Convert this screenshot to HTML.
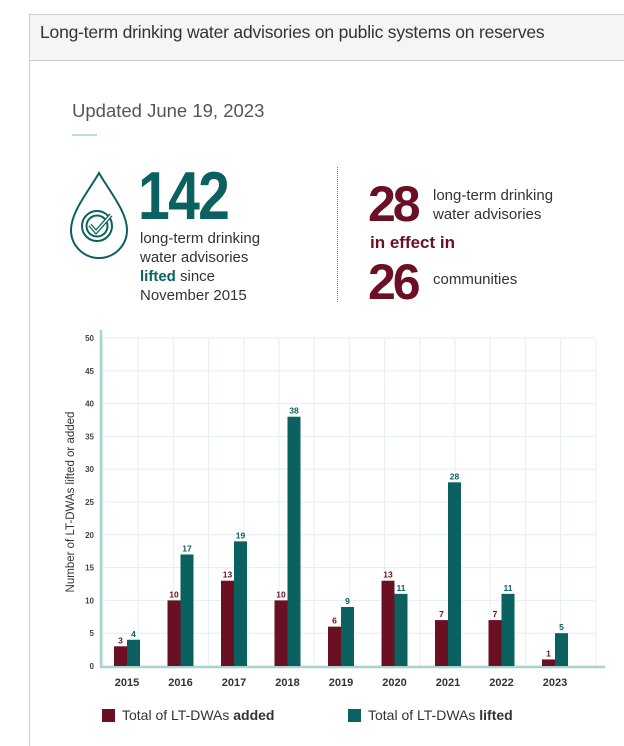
<!DOCTYPE html>
<html><head><meta charset="utf-8"><style>
html,body{margin:0;width:624px;height:746px;background:#fff;font-family:"Liberation Sans",sans-serif;position:relative;overflow:hidden}
.abs{position:absolute}
</style></head><body>
<div class="abs" style="left:29px;top:14px;width:620px;height:740px;border-left:1px solid #cfcfcf;border-top:1px solid #cfcfcf"></div>
<div class="abs" style="left:30px;top:15px;width:600px;height:45px;background:#f5f5f5;border-bottom:1px solid #cfcfcf"></div>
<div class="abs" style="left:40px;top:22px;font-size:17.5px;color:#333;letter-spacing:-0.2px">Long-term drinking water advisories on public systems on reserves</div>
<div class="abs" style="left:72px;top:100px;font-size:18.5px;color:#555">Updated June 19, 2023</div>
<div class="abs" style="left:72px;top:134px;width:25px;height:2px;background:#bcdcdc"></div>
<svg class="abs" style="left:68px;top:170px" width="62" height="90" viewBox="0 0 62 90">
<path d="M31 3 C20 22 3 42 3 60 A28 28 0 0 0 59 60 C59 42 42 22 31 3Z" fill="none" stroke="#0b6060" stroke-width="2"/>
<circle cx="29" cy="56" r="15" fill="none" stroke="#0b6060" stroke-width="2"/>
<circle cx="29" cy="56" r="10.5" fill="none" stroke="#0b6060" stroke-width="2"/>
<path d="M22 55 L28 62 L43 45" fill="none" stroke="#0b6060" stroke-width="4"/>
<path d="M22 55 L28 62 L43 45" fill="none" stroke="#fff" stroke-width="1.5"/>
</svg>
<div class="abs" style="left:138px;top:160px;font-size:68px;font-weight:bold;color:#0b6060;letter-spacing:-2px;line-height:72px;transform:scaleX(0.84);transform-origin:left top">142</div>
<div class="abs" style="left:140px;top:229px;font-size:15px;line-height:19px;color:#333">long-term drinking<br>water advisories<br><b style="color:#0b6060">lifted</b> since<br>November 2015</div>
<div class="abs" style="left:337px;top:167px;height:135px;border-left:1px dotted #6a8a8a"></div>
<div class="abs" style="left:368px;top:178px;font-size:50px;font-weight:bold;color:#6b0f23;letter-spacing:-3px;line-height:52px">28</div>
<div class="abs" style="left:433px;top:186px;font-size:15px;line-height:19px;color:#333">long-term drinking<br>water advisories</div>
<div class="abs" style="left:370px;top:233px;font-size:17px;font-weight:bold;color:#6b0f23">in effect in</div>
<div class="abs" style="left:368px;top:256px;font-size:50px;font-weight:bold;color:#6b0f23;letter-spacing:-3px;line-height:52px">26</div>
<div class="abs" style="left:433px;top:271px;font-size:15px;color:#333">communities</div>

<svg class="abs" id="chart" style="left:0;top:320px" width="624" height="426"></svg>
<script>
const years=["2015","2016","2017","2018","2019","2020","2021","2022","2023"];
const added=[3,10,13,10,6,13,7,7,1];
const lifted=[4,17,19,38,9,11,28,11,5];
const yTicks=[0,5,10,15,20,25,30,35,40,45,50];
const svg=document.getElementById('chart');
const NS='http://www.w3.org/2000/svg';
const y0=346,yTop=18,yMax=50;
const y=v=>y0-(v/yMax)*(y0-yTop);
const x=i=>127+i*53.5;
function mk(t,a){const e=document.createElementNS(NS,t);for(const k in a)e.setAttribute(k,a[k]);svg.appendChild(e);return e;}
for(let gx=103;gx<=596;gx+=35.2){const l=mk('line',{x1:gx,x2:gx,y1:yTop,y2:y0,stroke:'#e6eeee','stroke-width':1});

}
yTicks.forEach(v=>{const l=mk('line',{x1:100,x2:595,y1:y(v),y2:y(v),stroke:'#e6eeee','stroke-width':1});


const t=mk('text',{x:94,y:y(v)+3,'text-anchor':'end','font-size':8,'font-weight':'bold',fill:'#444'});t.textContent=v;

});
const ax=mk('line',{x1:101,x2:101,y1:yTop-8,y2:y0+1,stroke:'#a9d3cf','stroke-width':2.5});


const bx=mk('line',{x1:100,x2:605,y1:y0+1,y2:y0+1,stroke:'#a9d3cf','stroke-width':2.5});


years.forEach((yr,i)=>{
 const c=x(i);
 const r1=mk('rect',{x:c-13,y:y(added[i]),width:13,height:y0-y(added[i]),fill:'#6b0f23'});
 
 
 const r2=mk('rect',{x:c,y:y(lifted[i]),width:13,height:y0-y(lifted[i]),fill:'#0b6060'});
 
 
 const t1=mk('text',{x:c-6.5,y:y(added[i])-3,'text-anchor':'middle','font-size':8.5,'font-weight':'bold',fill:'#6b0f23'});t1.textContent=added[i];
 
 
 const t2=mk('text',{x:c+6.5,y:y(lifted[i])-3,'text-anchor':'middle','font-size':8.5,'font-weight':'bold',fill:'#0b6060'});t2.textContent=lifted[i];
 
 
 const xl=mk('text',{x:c,y:366,'text-anchor':'middle','font-size':11,'font-weight':'bold',fill:'#333'});xl.textContent=yr;
 
 
});
const yt=mk('text',{x:0,y:0,'text-anchor':'middle','font-size':11.5,fill:'#333',transform:'translate(74,182) rotate(-90)'});yt.textContent='Number of LT-DWAs lifted or added';


</script>
<div class="abs" style="left:102px;top:707px;font-size:14px;color:#333"><span style="display:inline-block;width:13px;height:13px;background:#6b0f23;vertical-align:-2px;margin-right:7px"></span>Total of LT-DWAs <b>added</b></div>
<div class="abs" style="left:348px;top:707px;font-size:14px;color:#333"><span style="display:inline-block;width:13px;height:13px;background:#0b6060;vertical-align:-2px;margin-right:7px"></span>Total of LT-DWAs <b>lifted</b></div>
</body></html>
